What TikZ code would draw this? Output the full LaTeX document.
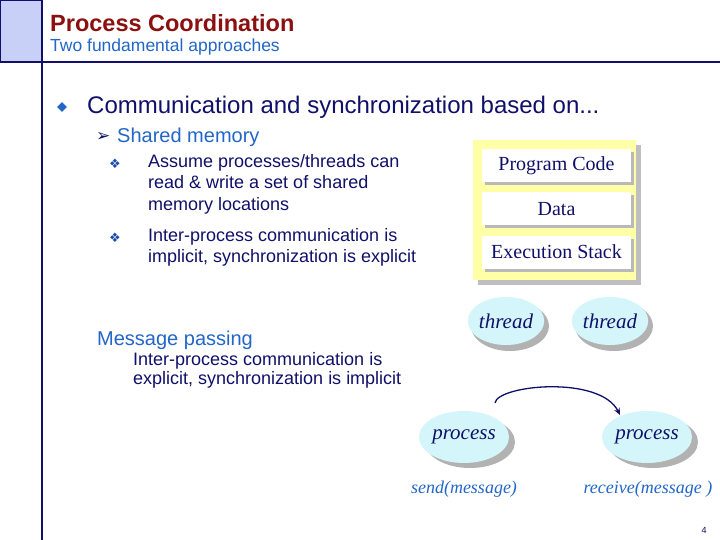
\documentclass[tikz,border=0pt]{standalone}
\usepackage{fontspec}
\setmainfont{Liberation Sans}
\newfontfamily\tms{Liberation Serif}
\newfontfamily\djv{DejaVu Sans}
\usetikzlibrary{shapes.geometric,arrows.meta}
\definecolor{navy}{HTML}{10106A}
\definecolor{dred}{HTML}{8B1010}
\definecolor{sblue}{HTML}{2266C8}
\definecolor{lblue}{HTML}{C8D0F8}
\definecolor{cyanf}{HTML}{D4F6FA}
\definecolor{yel}{HTML}{FFFFA8}
\tikzset{
  txt/.style={anchor=west,inner sep=0pt,text=navy,font=\fontsize{18}{21}\selectfont},
  membox/.style={draw=none,fill=white,minimum width=149pt,minimum height=33pt,inner sep=0pt,text=navy,font=\tms\fontsize{20}{22}\selectfont},
  blob/.style={ellipse,fill=cyanf,inner sep=0pt,text=navy,font=\tms\itshape\fontsize{21}{22}\selectfont},
  shad/.style={fill=gray!60},
  lab/.style={text=sblue,font=\tms\itshape\fontsize{18}{20}\selectfont}
}
\begin{document}
\begin{tikzpicture}[x=1pt,y=-1pt]
\useasboundingbox (0,0) rectangle (720,540);
\fill[white] (0,0) rectangle (720,540);
\draw[navy,line width=1.2pt,fill=lblue] (0,0) rectangle (42,62);
\draw[navy,line width=2pt] (42,0) -- (42,540);
\draw[navy,line width=2pt] (0,62) -- (720,62);
\node[anchor=west,inner sep=0pt,text=dred,font=\bfseries\fontsize{23.5}{26}\selectfont] (title) at (50,23) {Process Coordination};
\node[anchor=west,inner sep=0pt,text=sblue,font=\fontsize{17.5}{20}\selectfont] (sub) at (50,47) {Two fundamental approaches};
\node[diamond,fill=sblue,inner sep=0pt,minimum size=10pt] (b1) at (62,107) {};
\node[txt,font=\fontsize{24}{28}\selectfont] (l1) at (87,107) {Communication and synchronization based on...};
\node[anchor=west,inner sep=0pt,text=navy,font=\djv\fontsize{17}{20}\selectfont] (ar) at (96,137) {➢};
\node[anchor=west,inner sep=0pt,text=sblue,font=\fontsize{20}{24}\selectfont] (sm) at (117,137) {Shared memory};
\node[anchor=west,inner sep=0pt,text=sblue!70!navy,font=\djv\fontsize{13}{14}\selectfont] (s1) at (109,164) {❖};
\node[txt,anchor=north west,align=left,font=\fontsize{18}{21.5}\selectfont] (t1) at (148,154) {Assume processes/threads can\\read \& write a set of shared\\memory locations};
\node[anchor=west,inner sep=0pt,text=sblue!70!navy,font=\djv\fontsize{13}{14}\selectfont] (s2) at (109,238) {❖};
\node[txt,anchor=north west,align=left,font=\fontsize{18}{21.5}\selectfont] (t2) at (148,228) {Inter-process communication is\\implicit, synchronization is explicit};
\node[anchor=west,inner sep=0pt,text=sblue,font=\fontsize{20}{24}\selectfont] (mp) at (97,340) {Message passing};
\node[txt,anchor=north west,align=left,font=\fontsize{18}{19}\selectfont] (t3) at (133,352) {Inter-process communication is\\explicit, synchronization is implicit};
% yellow box
\fill[gray!50] (478,145) rectangle (641,285);
\fill[yel] (473,140) rectangle (636,280);
\foreach \y/\t/\n in {166/Program Code/pc,209/Data/da,252/Execution Stack/es}{
  \fill[gray!55] (485,\y-13.5) rectangle (634,\y+19.5);
  \node[membox] (\n) at (556.5,\y) {\t};
}
% threads
\fill[shad] (510,326) ellipse (39 and 25);
\fill[shad] (614,326) ellipse (39 and 25);
\node[blob,minimum width=76pt,minimum height=48pt] (th1) at (506,321) {thread};
\node[blob,minimum width=76pt,minimum height=48pt] (th2) at (610,321) {thread};
% processes
\fill[shad] (470,442) ellipse (45 and 26);
\fill[shad] (653,442) ellipse (45 and 26);
\node[blob,minimum width=90pt,minimum height=52pt] (p1) at (464,437) {process};
\node[blob,minimum width=90pt,minimum height=52pt] (p2) at (647,437) {process};
\draw[navy,line width=1.3pt,-{Stealth[length=7pt,width=6pt]}] (p1.north)+(31,-8) coordinate (pa) .. controls (498,385) and (600,375) .. (620,415) coordinate (pb);
\node[lab] (sd) at (464,489) {send(message)};
\node[lab] (rc) at (648,489) {receive(message )};
\node[text=navy,font=\fontsize{9}{10}\selectfont] (pg) at (704,530) {4};
\end{tikzpicture}
\end{document}
